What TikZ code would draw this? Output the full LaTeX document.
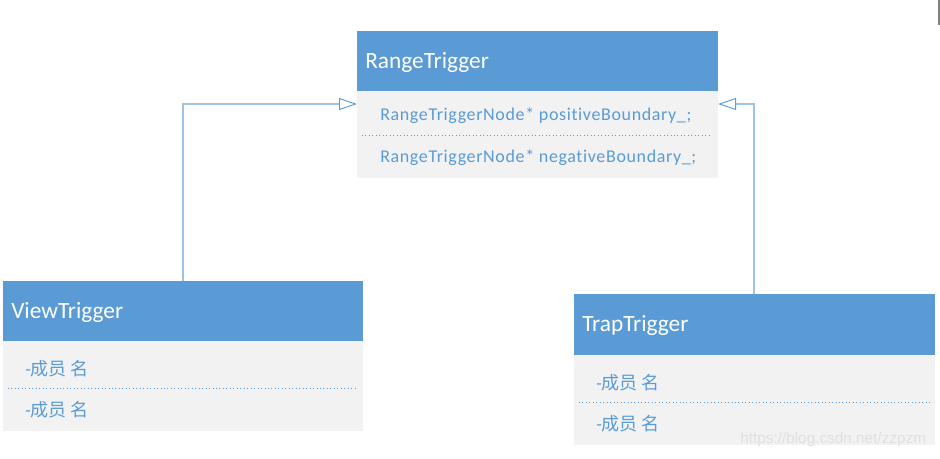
\documentclass[tikz,border=0pt]{standalone}
\usepackage{fontspec}
\setmainfont{Carlito}
\newfontfamily\cjk{Noto Sans CJK SC}
\newfontfamily\wmfont{Liberation Sans}
\usetikzlibrary{arrows.meta}
\definecolor{hdr}{HTML}{5B9BD5}
\definecolor{bodyc}{HTML}{F2F2F2}
\definecolor{attr}{HTML}{5B9BD5}
\definecolor{conn}{HTML}{9DC3E6}
\tikzset{
  hdrbox/.style={fill=hdr, draw=none},
  bodybox/.style={fill=bodyc, draw=none},
  title/.style={anchor=west, text=white, font=\fontsize{17.5}{20}\selectfont, inner sep=0pt},
  attrtxt/.style={anchor=west, text=attr, font=\fontsize{13.5}{16}\selectfont\addfontfeature{LetterSpace=3.5,Ligatures=NoCommon}, inner sep=0pt},
  sep/.style={draw=attr, dotted, line width=0.6pt},
  inherit/.style={draw=conn, line width=0.9pt, -{Triangle[open, length=13.5pt, width=9pt, fill=white, line width=0.7pt, color=hdr]}},
}
\begin{document}
\begin{tikzpicture}[x=0.75pt, y=-0.75pt]
\useasboundingbox (0,0) rectangle (940,458);
% RangeTrigger
\fill[hdrbox] (357,31) rectangle (718,91);
\fill[bodybox] (357,91) rectangle (718,178);
\node[title] (rt) at (365,62) {RangeTrigger};
\node[attrtxt] (rta) at (380,116) {RangeTriggerNode* positiveBoundary\_;};
\node[attrtxt] (rtb) at (380,158) {RangeTriggerNode* negativeBoundary\_;};
\draw[sep] (362,135) -- (712,135);
\coordinate (rtL) at (357,104);
\coordinate (rtR) at (718,104);
% ViewTrigger
\fill[hdrbox] (3,281) rectangle (363,341);
\fill[bodybox] (3,341) rectangle (363,431);
\node[title] (vt) at (11,312) {ViewTrigger};
\node[attrtxt] (vta) at (25,369) {-{\cjk 成员 名}};
\node[attrtxt] (vtb) at (25,410) {-{\cjk 成员 名}};
\draw[sep] (8,388) -- (358,388);
\coordinate (vtT) at (183,281);
% TrapTrigger
\fill[hdrbox] (574,294) rectangle (935,355);
\fill[bodybox] (574,355) rectangle (935,445);
\node[title] (tt) at (582,325) {TrapTrigger};
\node[attrtxt] (tta) at (596,383) {-{\cjk 成员 名}};
\node[attrtxt] (ttb) at (596,424) {-{\cjk 成员 名}};
\draw[sep] (579,402) -- (930,402);
\coordinate (ttT) at (754,294);
% connectors
\draw[inherit] (vtT) |- (rtL);
\draw[inherit] (ttT) |- (rtR);
% watermark and edge mark
\node[anchor=west, text=black!12, font=\fontsize{11.5}{13}\selectfont\wmfont, inner sep=0pt] (wm) at (740,440) {https://blog.csdn.net/zzpzm};
\draw[gray, line width=0.8pt] (939,0) -- (939,25);
\end{tikzpicture}
\end{document}
